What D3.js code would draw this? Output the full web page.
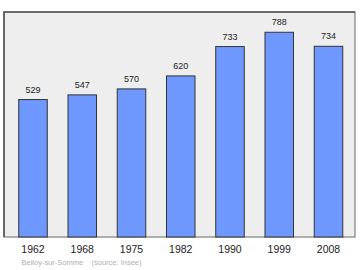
<!DOCTYPE html>
<html><head><meta charset="utf-8">
<script src="https://cdn.jsdelivr.net/npm/d3@7"></script>
<style>html,body{margin:0;padding:0;background:#fff;}svg{display:block;}</style>
</head><body>
<svg id="c" width="360" height="270"></svg>
<script>
const years = ["1962","1968","1975","1982","1990","1999","2008"];
const population = [529,547,570,620,733,788,734];
const footer = "Belloy-sur-Somme    (source: Insee)";

const svg = d3.select("#c");
const frame = {x0:4, y0:12, x1:355, y1:237};

svg.append("rect").attr("x",frame.x0).attr("y",frame.y0)
  .attr("width",frame.x1-frame.x0).attr("height",frame.y1-frame.y0)
  .attr("fill","#eeeeee").attr("stroke","#666").attr("stroke-width",1);
// darker left/top edge
svg.append("path").attr("d",`M${frame.x0},${frame.y1}V${frame.y0}H${frame.x1}`)
  .attr("fill","none").attr("stroke","#555").attr("stroke-width",1.6);

const x = d3.scaleBand().domain(years).range([8.9,352.6]).paddingInner(0.421).paddingOuter(0.2);
const y = d3.scaleLinear().domain([0,866]).range([frame.y1,frame.y0]);

svg.selectAll("rect.bar").data(population).join("rect").attr("class","bar")
  .attr("x",(d,i)=>x(years[i])).attr("y",d=>y(d))
  .attr("width",x.bandwidth()).attr("height",d=>frame.y1-y(d))
  .attr("fill","#6f98ff").attr("stroke","#333").attr("stroke-width",1);

svg.selectAll("text.val").data(population).join("text").attr("class","val")
  .attr("x",(d,i)=>x(years[i])+x.bandwidth()/2).attr("y",d=>y(d)-7)
  .attr("text-anchor","middle").attr("font-family","Liberation Sans, Arial, sans-serif")
  .attr("font-size",9).attr("fill","#222").text(d=>d);

const ax = svg.append("g").attr("transform",`translate(0,${frame.y1})`)
  .call(d3.axisBottom(x).tickSize(0).tickPadding(9));
ax.select(".domain").remove();
ax.selectAll("text").attr("font-family","Liberation Sans, Arial, sans-serif")
  .attr("font-size",10.5).attr("fill","#222");

svg.append("text").attr("x",21.5).attr("y",265).attr("font-family","Liberation Sans, Arial, sans-serif")
  .attr("font-size",7.5).attr("fill","#b0b0b0").attr("xml:space","preserve").style("white-space","pre").text(footer);
</script>
</body></html>
